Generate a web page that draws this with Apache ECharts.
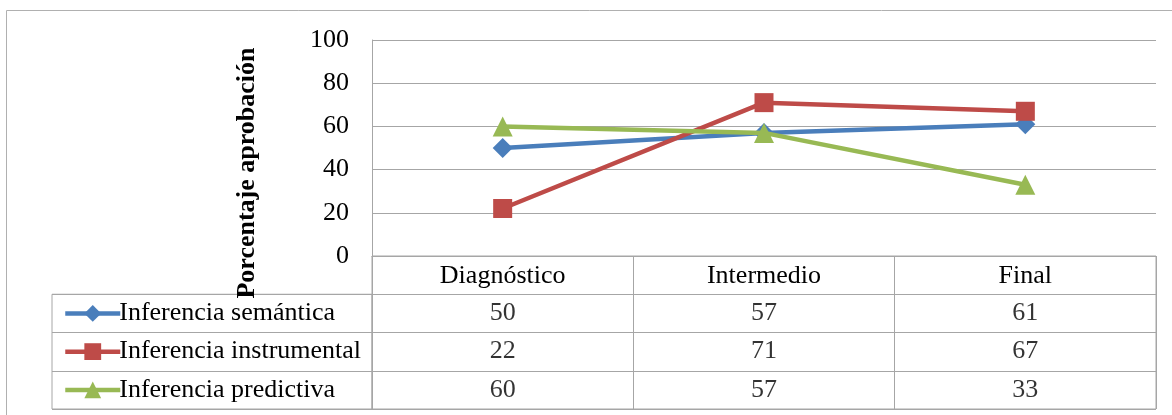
<!DOCTYPE html>
<html>
<head>
<meta charset="utf-8">
<script src="https://cdn.jsdelivr.net/npm/echarts@6/dist/echarts.min.js"></script>
<style>
html,body{margin:0;padding:0;background:#fff;}
#c{width:1172px;height:415px;}
</style>
</head>
<body>
<div id="c"></div>
<script>
const categories = ['Diagnóstico', 'Intermedio', 'Final'];
const seriesNames = ['Inferencia semántica', 'Inferencia instrumental', 'Inferencia predictiva'];
const semantica = [50, 57, 61];
const instrumental = [22, 71, 67];
const predictiva = [60, 57, 33];
const yTicks = [0, 20, 40, 60, 80, 100];
const yTitle = 'Porcentaje aprobación';

const colors = ['#4A7EBB', '#BE4B48', '#98B954'];
const symbols = ['diamond', 'rect', 'triangle'];
const seriesValues = [semantica, instrumental, predictiva];
const FONT = 'Liberation Serif';
const FS = 26;
const GRID = '#A6A6A6';

const chart = echarts.init(document.getElementById('c'), null, {renderer: 'canvas'});

const tableRows = ['hdr'].concat(seriesNames);
const cellData = [];
seriesValues.forEach((vals, si) => {
  vals.forEach((v, ci) => cellData.push([ci, si + 1, v]));
});

const lineSeries = seriesNames.map((n, i) => ({
  name: n,
  type: 'line',
  xAxisIndex: 0,
  yAxisIndex: 0,
  data: seriesValues[i],
  symbol: symbols[i],
  symbolSize: symbols[i] === 'rect' ? 19 : 20,
  showSymbol: true,
  color: colors[i],
  lineStyle: {width: 4.5, color: colors[i]},
  itemStyle: {color: colors[i]},
  animation: false,
  z: 3 + i
}));

// table geometry (rows below the plot)
const tableTop = 256, tableBottom = 409, rowH = (tableBottom - tableTop) / 4;
const legends = seriesNames.map((n, i) => ({
  orient: 'vertical',
  left: 58,
  top: tableTop + rowH * (i + 1.5) - 18,
  itemWidth: 55,
  itemHeight: 21,
  data: [n],
  lineStyle: {width: 4.5},
  textStyle: {fontSize: FS, fontFamily: FONT, color: '#000', lineHeight: 22, padding: [0, 0, 0, -6]},
  selectedMode: false
}));

chart.setOption({
  animation: false,
  textStyle: {fontFamily: FONT},
  graphic: [
    {type: 'rect', shape: {x: 6.5, y: 10.5, width: 1300, height: 600}, style: {fill: 'none', stroke: '#B0B0B0', lineWidth: 1}, z: -1},
    {type: 'text', x: 247, y: 173, rotation: Math.PI / 2,
     style: {text: yTitle, font: 'bold 26px "Liberation Serif"', fill: '#000', align: 'center', verticalAlign: 'middle'}, z: 10}
  ],
  legend: legends,
  grid: [
    {left: 372, right: 16, top: 40, bottom: 159},
    {left: 372, right: 16, top: tableTop, bottom: 415 - tableBottom, show: true, borderColor: GRID, borderWidth: 1},
    {left: 52, width: 320, top: tableTop + rowH, bottom: 415 - tableBottom, show: true, borderColor: GRID, borderWidth: 1}
  ],
  xAxis: [
    {type: 'category', gridIndex: 0, data: categories, boundaryGap: true,
     axisLine: {show: true, lineStyle: {color: GRID}}, axisTick: {show: false},
     axisLabel: {fontSize: FS, fontFamily: FONT, color: '#000', margin: 7}},
    {type: 'category', gridIndex: 1, data: categories, boundaryGap: true,
     axisLine: {show: false}, axisTick: {show: false}, axisLabel: {show: false},
     splitLine: {show: true, lineStyle: {color: GRID}}},
    {type: 'value', gridIndex: 2, show: false}
  ],
  yAxis: [
    {type: 'value', gridIndex: 0, min: 0, max: 100, interval: 20,
     axisLine: {show: true, lineStyle: {color: GRID}}, axisTick: {show: false},
     splitLine: {show: true, lineStyle: {color: GRID}},
     axisLabel: {fontSize: FS, fontFamily: FONT, color: '#000', margin: 23,
       formatter: v => yTicks.indexOf(v) >= 0 ? String(v) : ''}},
    {type: 'category', gridIndex: 1, data: tableRows, inverse: true, boundaryGap: true,
     axisLine: {show: false}, axisTick: {show: false}, axisLabel: {show: false},
     splitLine: {show: true, lineStyle: {color: GRID}}},
    {type: 'category', gridIndex: 2, data: seriesNames, inverse: true, boundaryGap: true,
     axisLine: {show: false}, axisTick: {show: false}, axisLabel: {show: false},
     splitLine: {show: true, lineStyle: {color: GRID}}}
  ],
  series: lineSeries.concat([{
    name: 'tabla',
    type: 'scatter',
    xAxisIndex: 1,
    yAxisIndex: 1,
    data: cellData,
    symbolSize: 1,
    itemStyle: {color: 'rgba(0,0,0,0)'},
    silent: true,
    label: {show: true, position: 'inside', formatter: p => String(p.value[2]),
      fontSize: FS, fontFamily: FONT, color: '#000'}
  }])
});
</script>
</body>
</html>
